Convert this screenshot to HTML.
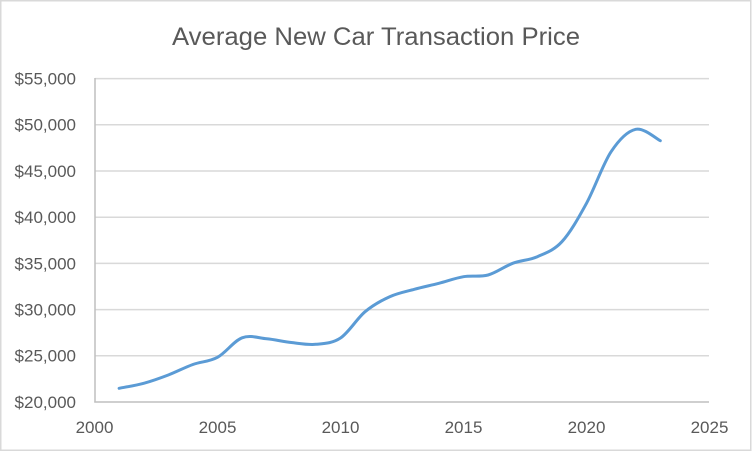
<!DOCTYPE html>
<html>
<head>
<meta charset="utf-8">
<style>
html,body{margin:0;padding:0;background:#fff;}
svg{display:block;}
text{font-family:"Liberation Sans",Arial,sans-serif;fill:#595959;}
</style>
</head>
<body>
<svg width="752" height="452" viewBox="0 0 752 452" xmlns="http://www.w3.org/2000/svg">
<rect x="0" y="0" width="752" height="452" fill="#fff"/>
<rect x="0.75" y="0.75" width="750" height="449.5" fill="none" stroke="#d9d9d9" stroke-width="1.5"/>
<text x="172" y="45" font-size="25" textLength="408" lengthAdjust="spacingAndGlyphs">Average New Car Transaction Price</text>
<g stroke="#d9d9d9" stroke-width="1.5">
<line x1="95" y1="78.6" x2="709" y2="78.6"/>
<line x1="95" y1="124.8" x2="709" y2="124.8"/>
<line x1="95" y1="171" x2="709" y2="171"/>
<line x1="95" y1="217.2" x2="709" y2="217.2"/>
<line x1="95" y1="263.4" x2="709" y2="263.4"/>
<line x1="95" y1="309.6" x2="709" y2="309.6"/>
<line x1="95" y1="355.8" x2="709" y2="355.8"/>
</g>
<g stroke="#bfbfbf" stroke-width="1.5">
<line x1="95" y1="78" x2="95" y2="402.5"/>
<line x1="94.3" y1="402" x2="709" y2="402"/>
</g>
<g font-size="17" text-anchor="end">
<text x="76" y="84.5">$55,000</text>
<text x="76" y="130.7">$50,000</text>
<text x="76" y="176.9">$45,000</text>
<text x="76" y="223.1">$40,000</text>
<text x="76" y="269.3">$35,000</text>
<text x="76" y="315.5">$30,000</text>
<text x="76" y="361.7">$25,000</text>
<text x="76" y="407.9">$20,000</text>
</g>
<g font-size="17" text-anchor="middle">
<text x="94.5" y="433">2000</text>
<text x="217.5" y="433">2005</text>
<text x="340.5" y="433">2010</text>
<text x="463.5" y="433">2015</text>
<text x="586.5" y="433">2020</text>
<text x="709.5" y="433">2025</text>
</g>
<path fill="none" stroke="#5b9bd5" stroke-width="3" stroke-linecap="round" stroke-linejoin="round"
d="M119.1,388.3 C123.2,387.47 135.5,385.52 143.7,383.3
C151.9,381.08 160.1,378.13 168.3,375
C176.5,371.87 184.7,367.45 192.9,364.5
C201.1,361.55 209.3,361.75 217.5,357.3
C225.7,352.85 233.9,340.88 242.1,337.8
C250.3,334.72 258.5,338.02 266.7,338.8
C274.9,339.58 283.1,341.58 291.3,342.5
C299.5,343.42 307.7,345.05 315.9,344.3
C324.1,343.55 332.3,343.43 340.5,338
C348.7,332.57 356.9,318.58 365.1,311.7
C373.3,304.82 381.5,300.43 389.7,296.7
C397.9,292.97 406.1,291.53 414.3,289.3
C422.5,287.07 430.7,285.4 438.9,283.3
C447.1,281.2 455.3,278.08 463.5,276.7
C471.7,275.32 479.9,277.23 488.1,275
C496.3,272.77 504.5,266.35 512.7,263.3
C520.9,260.25 529.1,260.3 537.3,256.7
C545.5,253.1 553.7,250.6 561.9,241.7
C570.1,232.8 578.3,218.3 586.5,203.3
C594.7,188.3 602.9,164.03 611.1,151.7
C619.3,139.37 627.5,131.13 635.7,129.3
C643.9,127.47 656.2,138.8 660.3,140.7"/>
</svg>
</body>
</html>
